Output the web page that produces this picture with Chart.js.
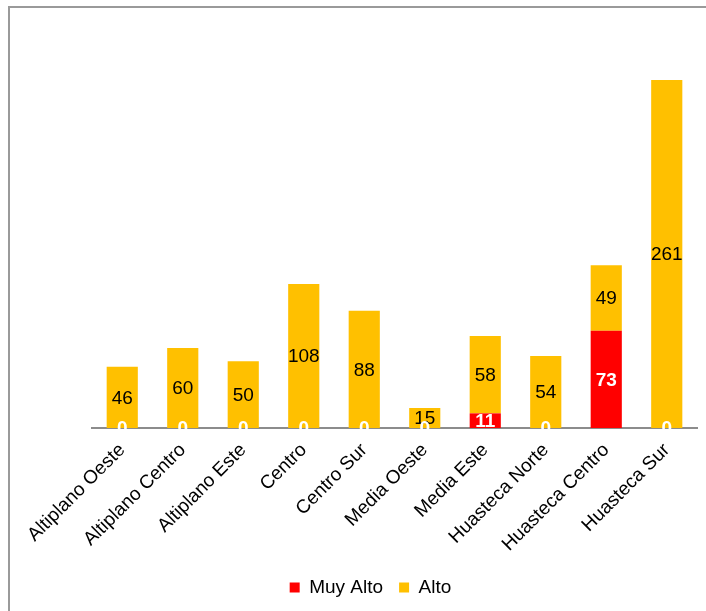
<!DOCTYPE html>
<html>
<head>
<meta charset="utf-8">
<script src="https://cdn.jsdelivr.net/npm/chart.js@4"></script>
<style>
  html, body { margin: 0; padding: 0; background: #fff; overflow: hidden; }
  #wrap { position: relative; width: 706px; height: 611px; }
  #frame { position: absolute; left: 8px; top: 6px; width: 720px; height: 620px;
           border-left: 2px solid #9a9a9a; border-top: 2px solid #9a9a9a; }
  #chart { position: absolute; left: 0; top: 0; }
</style>
</head>
<body>
<div id="wrap">
  <div id="frame"></div>
  <canvas id="chart" width="706" height="611"></canvas>
</div>
<script>
var categories = ['Altiplano Oeste', 'Altiplano Centro', 'Altiplano Este', 'Centro', 'Centro Sur',
    'Media Oeste', 'Media Este', 'Huasteca Norte', 'Huasteca Centro', 'Huasteca Sur'];
var muyAlto = [0, 0, 0, 0, 0, 0, 11, 0, 73, 0];
var alto = [46, 60, 50, 108, 88, 15, 58, 54, 49, 261];

var FONT = 'Arial, "Liberation Sans", sans-serif';

// etiquetas dentro de las barras
var barLabels = {
    id: 'barLabels',
    afterDatasetsDraw: function (chart) {
        var ctx = chart.ctx;
        ctx.save();
        ctx.textAlign = 'center';
        ctx.textBaseline = 'middle';
        // primero Alto, luego Muy Alto encima
        [1, 0].forEach(function (di) {
            var meta = chart.getDatasetMeta(di);
            var data = chart.data.datasets[di].data;
            meta.data.forEach(function (el, i) {
                var y = (el.y + el.base) / 2;
                if (di === 0) {
                    ctx.fillStyle = '#ffffff';
                    ctx.font = 'bold 19px ' + FONT;
                } else {
                    ctx.fillStyle = '#000000';
                    ctx.font = '19px ' + FONT;
                }
                ctx.fillText(String(data[i]), el.x, y + 1);
            });
        });
        ctx.restore();
    }
};

// la leyenda va un poco a la izquierda del centro del area
var legendShift = {
    id: 'legendShift',
    afterLayout: function (chart) {
        if (chart.legend) {
            chart.legend.left -= 24;
            chart.legend.right -= 24;
        }
    }
};

new Chart(document.getElementById('chart'), {
    type: 'bar',
    data: {
        labels: categories,
        datasets: [
            {
                label: 'Muy Alto',
                data: muyAlto,
                backgroundColor: '#ff0000',
                barPercentage: 1,
                categoryPercentage: 0.515
            },
            {
                label: 'Alto',
                data: alto,
                backgroundColor: '#ffc000',
                barPercentage: 1,
                categoryPercentage: 0.515
            }
        ]
    },
    options: {
        responsive: false,
        animation: false,
        layout: { padding: { left: 92, right: 9, top: 28, bottom: 4 } },
        plugins: {
            legend: {
                position: 'bottom',
                labels: {
                    boxWidth: 10,
                    boxHeight: 10,
                    padding: 16,
                    color: '#000',
                    font: { family: FONT, size: 19 }
                }
            },
            tooltip: { enabled: false }
        },
        scales: {
            x: {
                stacked: true,
                z: 1,
                grid: { display: false },
                border: { display: true, color: '#8c8c8c', width: 2 },
                ticks: {
                    color: '#000',
                    font: { family: FONT, size: 19 },
                    minRotation: 45,
                    maxRotation: 45,
                    autoSkip: false,
                    padding: 3
                },
                afterFit: function (scale) { scale.height = 134; }
            },
            y: {
                stacked: true,
                display: false,
                min: 0,
                max: 300
            }
        }
    },
    plugins: [barLabels, legendShift]
});
</script>
</body>
</html>
